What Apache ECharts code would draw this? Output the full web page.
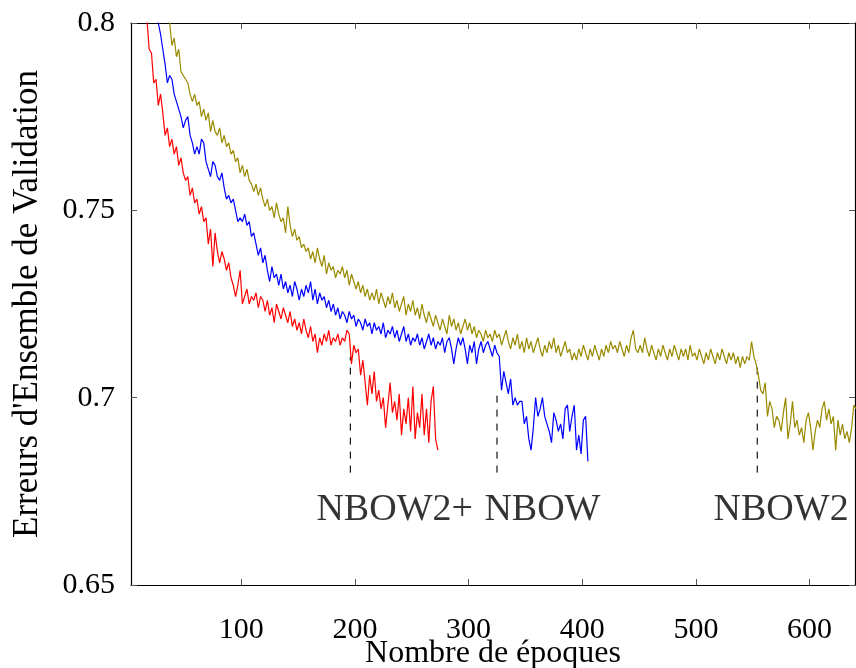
<!DOCTYPE html>
<html>
<head>
<meta charset="utf-8">
<script src="https://cdn.jsdelivr.net/npm/echarts@6/dist/echarts.min.js"></script>
<style>html,body{margin:0;padding:0;background:#fff}#c{width:856px;height:668px}</style>
</head>
<body>
<div id="c"></div>
<script>
// ---- data ----
const epochStart = 3;
const epochStep = 2;
const redValues = [0.870,0.862,0.853,0.845,0.836,0.826,0.812,0.801,0.793,0.792,0.784,0.785,0.778,0.781,0.776,0.770,0.772,0.767,0.769,0.765,0.767,0.762,0.764,0.760,0.758,0.759,0.754,0.756,0.752,0.753,0.749,0.751,0.747,0.748,0.741,0.745,0.735,0.744,0.739,0.736,0.739,0.737,0.734,0.736,0.732,0.730,0.727,0.730,0.734,0.725,0.727,0.729,0.725,0.727,0.726,0.728,0.724,0.727,0.726,0.723,0.726,0.722,0.724,0.720,0.725,0.723,0.721,0.724,0.722,0.720,0.723,0.719,0.721,0.718,0.720,0.717,0.721,0.718,0.716,0.719,0.715,0.717,0.712,0.716,0.714,0.717,0.715,0.718,0.714,0.716,0.715,0.717,0.714,0.716,0.715,0.718,0.717,0.709,0.714,0.712,0.713,0.706,0.710,0.704,0.698,0.706,0.701,0.707,0.699,0.702,0.697,0.700,0.692,0.698,0.704,0.696,0.699,0.694,0.701,0.690,0.697,0.693,0.700,0.691,0.703,0.689,0.696,0.692,0.701,0.690,0.697,0.688,0.699,0.703,0.689,0.686];
const blueValues = [0.880,0.872,0.864,0.856,0.849,0.842,0.835,0.828,0.821,0.815,0.809,0.804,0.800,0.797,0.793,0.789,0.784,0.786,0.785,0.781,0.779,0.777,0.775,0.772,0.774,0.775,0.770,0.768,0.765,0.767,0.765,0.769,0.768,0.763,0.761,0.759,0.763,0.762,0.759,0.758,0.760,0.756,0.753,0.754,0.752,0.753,0.750,0.747,0.748,0.747,0.749,0.746,0.747,0.743,0.744,0.741,0.738,0.740,0.736,0.738,0.734,0.731,0.735,0.732,0.733,0.730,0.733,0.729,0.731,0.728,0.730,0.727,0.731,0.729,0.726,0.729,0.727,0.730,0.728,0.731,0.726,0.729,0.725,0.728,0.726,0.727,0.724,0.726,0.723,0.725,0.722,0.724,0.721,0.723,0.722,0.720,0.723,0.721,0.722,0.719,0.721,0.720,0.718,0.721,0.719,0.720,0.717,0.720,0.718,0.719,0.717,0.720,0.716,0.718,0.717,0.719,0.716,0.718,0.715,0.717,0.719,0.715,0.717,0.714,0.716,0.715,0.717,0.714,0.716,0.713,0.715,0.717,0.714,0.716,0.713,0.715,0.714,0.716,0.712,0.715,0.716,0.713,0.709,0.713,0.716,0.714,0.716,0.713,0.709,0.714,0.712,0.715,0.709,0.713,0.715,0.712,0.714,0.715,0.713,0.711,0.714,0.712,0.711,0.702,0.707,0.704,0.701,0.705,0.698,0.700,0.698,0.699,0.699,0.693,0.695,0.689,0.686,0.692,0.700,0.695,0.697,0.700,0.695,0.693,0.691,0.688,0.696,0.694,0.691,0.693,0.689,0.697,0.698,0.691,0.695,0.698,0.686,0.690,0.685,0.694,0.695,0.683];
const goldValues = [0.900,0.892,0.884,0.876,0.869,0.862,0.855,0.848,0.842,0.836,0.830,0.824,0.819,0.814,0.809,0.805,0.802,0.800,0.794,0.796,0.791,0.793,0.787,0.786,0.785,0.784,0.781,0.779,0.781,0.778,0.779,0.775,0.777,0.774,0.776,0.771,0.774,0.771,0.770,0.772,0.768,0.770,0.767,0.768,0.765,0.766,0.763,0.764,0.760,0.762,0.759,0.761,0.758,0.757,0.755,0.757,0.754,0.756,0.753,0.751,0.753,0.750,0.751,0.748,0.752,0.749,0.747,0.748,0.744,0.751,0.746,0.743,0.745,0.742,0.743,0.740,0.741,0.739,0.740,0.737,0.739,0.736,0.740,0.737,0.735,0.738,0.733,0.736,0.734,0.735,0.732,0.734,0.733,0.735,0.732,0.734,0.730,0.733,0.731,0.729,0.731,0.728,0.730,0.727,0.729,0.726,0.728,0.726,0.729,0.725,0.728,0.726,0.724,0.727,0.725,0.728,0.724,0.726,0.723,0.725,0.727,0.722,0.725,0.723,0.726,0.722,0.724,0.721,0.725,0.722,0.720,0.723,0.721,0.719,0.722,0.720,0.718,0.721,0.719,0.717,0.722,0.719,0.721,0.718,0.720,0.717,0.719,0.721,0.718,0.720,0.717,0.719,0.716,0.718,0.717,0.715,0.718,0.716,0.717,0.715,0.718,0.716,0.717,0.714,0.716,0.718,0.715,0.713,0.716,0.714,0.717,0.713,0.715,0.712,0.716,0.713,0.715,0.712,0.714,0.716,0.713,0.711,0.714,0.712,0.715,0.713,0.716,0.712,0.714,0.711,0.713,0.715,0.712,0.713,0.710,0.712,0.710,0.713,0.711,0.714,0.712,0.710,0.713,0.711,0.714,0.712,0.710,0.713,0.711,0.714,0.712,0.715,0.713,0.714,0.712,0.715,0.713,0.711,0.714,0.712,0.716,0.718,0.713,0.712,0.714,0.712,0.716,0.713,0.711,0.714,0.712,0.710,0.713,0.711,0.714,0.712,0.710,0.713,0.711,0.714,0.712,0.710,0.713,0.711,0.713,0.710,0.714,0.711,0.712,0.710,0.713,0.711,0.709,0.712,0.710,0.713,0.711,0.709,0.712,0.710,0.713,0.711,0.709,0.712,0.710,0.712,0.709,0.711,0.708,0.711,0.709,0.711,0.710,0.715,0.711,0.709,0.706,0.702,0.701,0.704,0.695,0.699,0.697,0.692,0.695,0.694,0.691,0.696,0.700,0.689,0.693,0.699,0.692,0.694,0.690,0.692,0.688,0.694,0.696,0.692,0.686,0.691,0.694,0.692,0.697,0.699,0.694,0.697,0.693,0.695,0.686,0.694,0.690,0.693,0.689,0.691,0.688,0.692,0.698,0.697];

const xTicks = [100, 200, 300, 400, 500, 600];
const yTicks = [0.65, 0.7, 0.75, 0.8];
const breakEpochs = [196, 325, 554];
const breakTops = [0.711, 0.702, 0.710];
const breakBottom = 0.68;
const labelNames = ['NBOW2+', 'NBOW', 'NBOW2'];
const labelEpochs = [235, 365, 575];
const labelLevel = 0.6700;

// ---- build ----
function pairs(vals) { return vals.map((v, i) => [epochStart + i * epochStep, v]); }
const FONT = '"Liberation Serif", "Times New Roman", serif';

const series = [
  { type: 'line', data: pairs(goldValues), color: '#998a00' },
  { type: 'line', data: pairs(blueValues), color: '#0000ff' },
  { type: 'line', data: pairs(redValues), color: '#ff0000' }
].map(s => Object.assign(s, {
  showSymbol: false, symbol: 'none', clip: true, z: 3,
  lineStyle: { width: 1.2, color: s.color }
}));

breakEpochs.forEach((e, i) => {
  series.push({
    type: 'line', data: [[e, breakBottom], [e, breakTops[i]]],
    showSymbol: false, symbol: 'none', z: 2,
    lineStyle: { color: '#000', width: 1.1, type: [7, 7] }
  });
});

series.push({
  type: 'scatter', symbolSize: 0, z: 5,
  data: labelNames.map((n, i) => ({ name: n, value: [labelEpochs[i], labelLevel] })),
  label: { show: true, position: 'inside', formatter: p => p.name, color: '#000', textBorderWidth: 0, fontFamily: FONT, fontSize: 38 }
});

const axisLine = { show: true, onZero: false, lineStyle: { color: '#000', width: 1.2 } };
const tick = { show: true, inside: true, length: 6, lineStyle: { color: '#555', width: 1 } };

const option = {
  animation: false,
  backgroundColor: '#fff',
  grid: { left: 131, right: 1, top: 23, bottom: 83, containLabel: false, outerBoundsMode: 'none' },
  xAxis: [
    {
      type: 'value', min: 3, max: 640, position: 'bottom',
      axisLine, axisTick: Object.assign({ customValues: xTicks }, tick),
      axisLabel: { customValues: xTicks, margin: 30, color: '#000', fontFamily: FONT, fontSize: 30 },
      splitLine: { show: false },
      name: 'Nombre de époques', nameLocation: 'middle', nameGap: 53, nameMoveOverlap: false,
      nameTextStyle: { color: '#000', fontFamily: FONT, fontSize: 32 }
    },
    {
      type: 'value', min: 3, max: 640, position: 'top',
      axisLine, axisTick: Object.assign({ customValues: xTicks }, tick),
      axisLabel: { show: false }, splitLine: { show: false }
    }
  ],
  yAxis: [
    {
      type: 'value', min: 0.65, max: 0.8, interval: 0.05, position: 'left',
      axisLine, axisTick: tick,
      axisLabel: { margin: 16, color: '#000', fontFamily: FONT, fontSize: 30,
        formatter: v => String(Math.round(v * 100) / 100) },
      splitLine: { show: false },
      name: "Erreurs d'Ensemble de Validation", nameLocation: 'middle', nameGap: 86, nameMoveOverlap: false,
      nameTextStyle: { color: '#000', fontFamily: FONT, fontSize: 35 }
    },
    {
      type: 'value', min: 0.65, max: 0.8, interval: 0.05, position: 'right',
      axisLine, axisTick: tick, axisLabel: { show: false }, splitLine: { show: false }
    }
  ],
  series
};
echarts.init(document.getElementById('c'), null, { renderer: 'canvas' }).setOption(option);
</script>
</body>
</html>
